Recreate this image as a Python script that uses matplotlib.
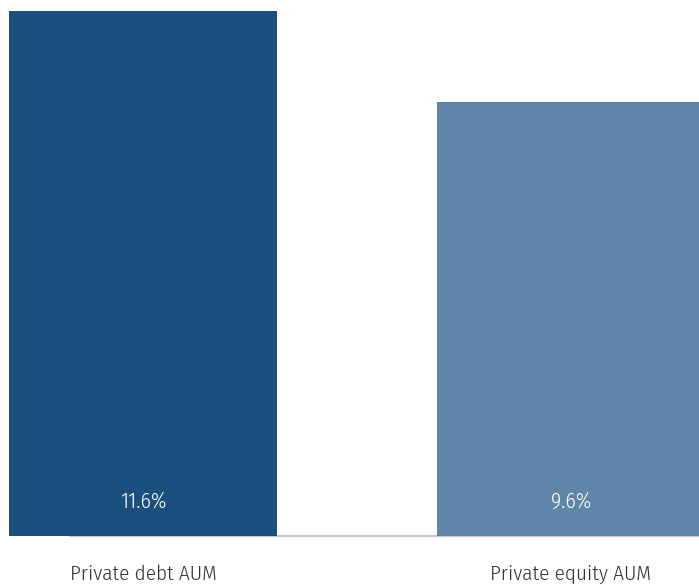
import matplotlib
matplotlib.use("Agg")
import matplotlib.pyplot as plt

plt.rcParams['font.family'] = ['Fira Sans Condensed', 'DejaVu Sans']

categories = ["Private debt AUM", "Private equity AUM"]
values = [11.6, 9.6]
value_labels = ["11.6%", "9.6%"]
colors = ["#1a4f7e", "#5f86a8"]

fig = plt.figure(figsize=(6.99, 5.85), dpi=100)
ax = fig.add_axes([0, 49/585, 1, 525/585])
x = list(range(len(categories)))
ax.bar(x, values, width=0.624, color=colors, zorder=2)
ax.set_xlim(-143/428, (699-143)/428)
ax.set_ylim(0, 11.6)
ax.axis('off')
ax.axhline(0, xmin=70/699, xmax=1, color="#c9c6c2", lw=1.5, zorder=1, clip_on=False)

for xi, lab in zip(x, value_labels):
    ax.annotate(lab, (xi, 0), xytext=(0, 25), textcoords='offset points',
                ha='center', va='center', color='white', fontsize=15.5, fontweight=300)
for xi, cat in zip(x, categories):
    ax.annotate(cat, (xi, 0), xytext=(0, -20.5), textcoords='offset points',
                ha='center', va='top', color='#333333', fontsize=15.2, fontweight=300)

fig.savefig("out.png")
